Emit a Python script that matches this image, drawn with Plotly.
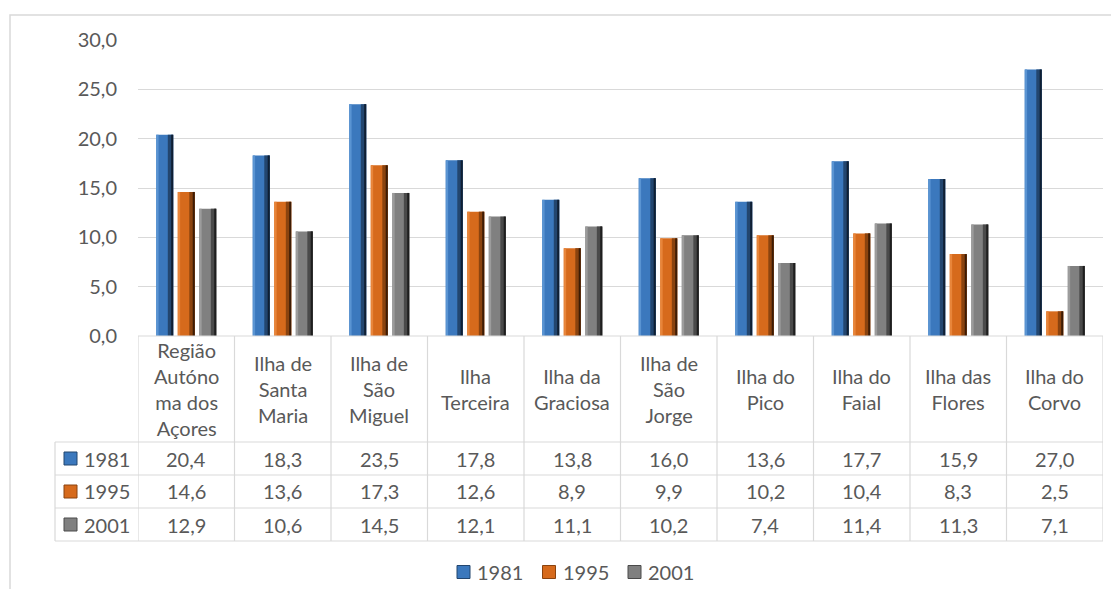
import plotly.graph_objects as go

categories = [
    "Região<br>Autóno<br>ma dos<br>Açores",
    "Ilha de<br>Santa<br>Maria",
    "Ilha de<br>São<br>Miguel",
    "Ilha<br>Terceira",
    "Ilha da<br>Graciosa",
    "Ilha de<br>São<br>Jorge",
    "Ilha do<br>Pico",
    "Ilha do<br>Faial",
    "Ilha das<br>Flores",
    "Ilha do<br>Corvo",
]
years = ["1981", "1995", "2001"]
v1981 = [20.4, 18.3, 23.5, 17.8, 13.8, 16.0, 13.6, 17.7, 15.9, 27.0]
v1995 = [14.6, 13.6, 17.3, 12.6, 8.9, 9.9, 10.2, 10.4, 8.3, 2.5]
v2001 = [12.9, 10.6, 14.5, 12.1, 11.1, 10.2, 7.4, 11.4, 11.3, 7.1]
y_ticks = [0, 5, 10, 15, 20, 25, 30]

series = [v1981, v1995, v2001]
# highlight, face, shade, edge colours per series
palette = [
    ("#5a94d2", "#3b78bd", "#23466f", "#0f1f33"),
    ("#e8853a", "#d66a1c", "#8a430f", "#3d1c05"),
    ("#9c9c9c", "#808080", "#4a4a4a", "#1e1e1e"),
]

FONT = "Lato"
GREY = "#595959"
LINE = "#d9d9d9"
FS = 20

# the page puts the figure 8px in from the top-left corner
OFF = 8
PW, PH = 1119 - OFF, 597 - 2 * OFF
# plot area in page pixels
L, R, T, B = 138, 1103, 40, 336
W, H = R - L, B - T


def px_x(px):
    return (px - L) / W


def px_y(py):
    return (B - py) / H


fig = go.Figure()
idx = list(range(len(categories)))
bw = 0.176
step = 0.223
for i, (vals, name, (hi, face, shade, edge)) in enumerate(zip(series, years, palette)):
    off = -0.5 * bw + (i - 1) * step
    fig.add_trace(go.Bar(x=idx, y=vals, width=bw, offset=off, name=name,
                         marker=dict(color=face, line=dict(width=0)),
                         hoverinfo="y"))
    fig.add_trace(go.Bar(x=idx, y=vals, width=bw * 0.14, offset=off,
                         marker=dict(color=hi, line=dict(width=0)),
                         hoverinfo="skip"))
    fig.add_trace(go.Bar(x=idx, y=vals, width=bw * 0.32, offset=off + bw * 0.68,
                         marker=dict(color=shade, line=dict(width=0)),
                         hoverinfo="skip"))
    fig.add_trace(go.Bar(x=idx, y=vals, width=bw * 0.12, offset=off + bw * 0.88,
                         marker=dict(color=edge, line=dict(width=0)),
                         hoverinfo="skip"))

shapes = []
# outer chart border
shapes.append(dict(type="rect", xref="paper", yref="paper",
                   x0=px_x(10), x1=px_x(1140), y0=px_y(620), y1=px_y(15),
                   line=dict(color=LINE, width=1.5), layer="below"))

rows_py = [442, 475, 508, 541]
# table horizontal lines
shapes.append(dict(type="line", xref="paper", yref="paper",
                   x0=0, x1=1, y0=0, y1=0, line=dict(color=LINE, width=1.2)))
for py in rows_py:
    shapes.append(dict(type="line", xref="paper", yref="paper",
                       x0=px_x(55), x1=1, y0=px_y(py), y1=px_y(py),
                       line=dict(color=LINE, width=1.2)))
# table vertical lines
for k in range(len(categories) + 1):
    shapes.append(dict(type="line", xref="x", yref="paper",
                       x0=k - 0.5, x1=k - 0.5, y0=0, y1=px_y(541),
                       line=dict(color=LINE, width=1.2)))
shapes.append(dict(type="line", xref="paper", yref="paper",
                   x0=px_x(55), x1=px_x(55), y0=px_y(442), y1=px_y(541),
                   line=dict(color=LINE, width=1.2)))

annotations = []
for k, cat in enumerate(categories):
    annotations.append(dict(x=k, y=px_y(389), xref="x", yref="paper", text=cat,
                            showarrow=False, xanchor="center", yanchor="middle",
                            font=dict(family=FONT, size=FS, color=GREY)))


def key_box(x0, cy, face, shade):
    return dict(type="rect", xref="paper", yref="paper",
                x0=px_x(x0), x1=px_x(x0 + 13), y0=px_y(cy + 6.5), y1=px_y(cy - 6.5),
                fillcolor=face, line=dict(color=shade, width=1))


for r, (vals, name, (hi, face, shade, edge)) in enumerate(zip(series, years, palette)):
    cy = (rows_py[r] + rows_py[r + 1]) / 2
    shapes.append(key_box(64, cy, face, shade))
    annotations.append(dict(x=px_x(82), y=px_y(cy), xref="paper", yref="paper",
                            text=name, showarrow=False, xanchor="left", yanchor="middle",
                            font=dict(family=FONT, size=FS, color=GREY)))
    for k, v in enumerate(vals):
        annotations.append(dict(x=k, y=px_y(cy), xref="x", yref="paper",
                                text=f"{v:.1f}".replace(".", ","), showarrow=False,
                                xanchor="center", yanchor="middle",
                                font=dict(family=FONT, size=FS, color=GREY)))

    # bottom legend
    lx = 457 + r * 85.5
    shapes.append(key_box(lx, 572, face, shade))
    annotations.append(dict(x=px_x(lx + 18), y=px_y(572), xref="paper", yref="paper",
                            text=name, showarrow=False, xanchor="left", yanchor="middle",
                            font=dict(family=FONT, size=FS, color=GREY)))

fig.update_layout(
    width=PW,
    height=PH,
    margin=dict(l=L - OFF, r=PW - (R - OFF), t=T - OFF, b=PH - (B - OFF)),
    paper_bgcolor="white",
    plot_bgcolor="white",
    barmode="overlay",
    shapes=shapes,
    annotations=annotations,
    showlegend=False,
)
fig.update_xaxes(range=[-0.5, len(categories) - 0.5], showticklabels=False, showgrid=False,
                 zeroline=False, showline=False, ticks="")
fig.update_yaxes(range=[0, 30], tickvals=y_ticks,
                 ticktext=[f"{t:.1f}".replace(".", ",") for t in y_ticks],
                 showgrid=True, gridcolor=LINE, gridwidth=1.2, zeroline=False,
                 showline=False, ticks="", ticklabelstandoff=20,
                 tickfont=dict(family=FONT, size=FS, color=GREY))

fig.write_html("out.html")
